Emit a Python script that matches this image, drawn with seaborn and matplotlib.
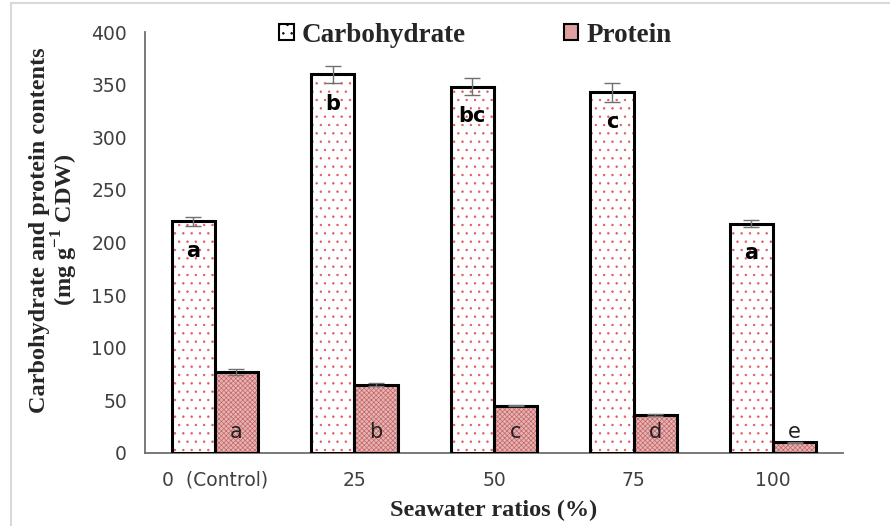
import pandas as pd
import matplotlib.pyplot as plt
import matplotlib.patches as mpatches
import seaborn as sns

# Chart values
ratios = ['0  (Control)', '25', '50', '75', '100']
carbohydrate = [220, 360, 348, 343, 218]
carb_err = [4, 8, 8, 9, 3]
protein = [77, 65, 45, 36, 10]
protein_err = [3, 1, 0.5, 0.5, 0.5]
carb_letters = ['a', 'b', 'bc', 'c', 'a']
protein_letters = ['a', 'b', 'c', 'd', 'e']

df = pd.DataFrame({
    'Ratio': ratios * 2,
    'Value': carbohydrate + protein,
    'Type': ['Carbohydrate'] * len(ratios) + ['Protein'] * len(ratios),
})

sns.set_style('white')
plt.rcParams['hatch.linewidth'] = 0.5

fig = plt.figure(figsize=(8.9, 5.26), dpi=100)
ax = fig.add_axes([0.163, 0.139, 0.784, 0.8])

sns.barplot(data=df, x='Ratio', y='Value', hue='Type', order=ratios,
            width=0.62, errorbar=None, legend=False, ax=ax)

styles = [
    dict(face='white', hatch='..', hcol='#e05a5a'),
    dict(face='#e6b4b4', hatch='xxxxxxx', hcol='#c46666'),
]
errs = [carb_err, protein_err]
vals = [carbohydrate, protein]
bar_groups = list(ax.containers)
for i, cont in enumerate(bar_groups):
    st = styles[i]
    xs = []
    for p in cont:
        p.set_facecolor(st['face'])
        p.set_hatch(st['hatch'])
        p.set_edgecolor(st['hcol'])
        p.set_linewidth(0)
        # black outline drawn on top so the hatch keeps its own colour
        ax.add_patch(mpatches.Rectangle(p.get_xy(), p.get_width(), p.get_height(),
                                        fill=False, edgecolor='black', lw=2.2, zorder=3))
        xs.append(p.get_x() + p.get_width() / 2)
    ax.errorbar(xs, vals[i], yerr=errs[i], fmt='none', ecolor='#707070',
                elinewidth=1, capsize=6, capthick=1, zorder=4)
    if i == 0:
        for x, v, t in zip(xs, carbohydrate, carb_letters):
            ax.text(x, v - 28, t, ha='center', va='center', fontsize=15,
                    fontweight='bold', color='black', zorder=5)
    else:
        for x, t in zip(xs, protein_letters):
            ax.text(x, 20, t, ha='center', va='center', fontsize=15,
                    color='#222222', zorder=5)

ax.set_ylim(0, 400)
ax.set_yticks(range(0, 401, 50))
ax.set_xlim(-0.5, len(ratios) - 0.5)
sns.despine(ax=ax)
for s in ['left', 'bottom']:
    ax.spines[s].set_color('#6e6e6e')
    ax.spines[s].set_linewidth(1.3)
ax.tick_params(axis='both', length=0, labelsize=13.5, labelcolor='#404040')
ax.tick_params(axis='y', pad=13)
ax.tick_params(axis='x', pad=13)
ax.set_xlabel('Seawater ratios (%)', family='Liberation Serif', fontweight='bold',
              fontsize=17.5, labelpad=7)
ax.set_ylabel('Carbohydrate and protein contents\n(mg g$^{\\mathregular{-1}}$ CDW)',
              family='Liberation Serif', fontweight='bold', fontsize=17.5,
              labelpad=8, linespacing=1.0)
ax.yaxis.label.set_y(0.53)

handles = [mpatches.Patch(facecolor='white', edgecolor='black', hatch='..', lw=1.5),
           mpatches.Patch(facecolor='#dca0a0', edgecolor='black', lw=1.5)]
fig.legend(handles, ['Carbohydrate', 'Protein'], loc='center', ncol=2,
           bbox_to_anchor=(0.534, 0.933), frameon=False,
           prop={'family': 'Liberation Serif', 'weight': 'bold', 'size': 19.5},
           handlelength=0.55, handleheight=0.55, handletextpad=0.3, columnspacing=3.6)

fig.add_artist(mpatches.Rectangle((0.0125, -0.01), 1.0, 1.004, transform=fig.transFigure,
                                  fill=False, edgecolor='#d9d9d9', lw=1.5))

fig.savefig('out.png', dpi=100)
